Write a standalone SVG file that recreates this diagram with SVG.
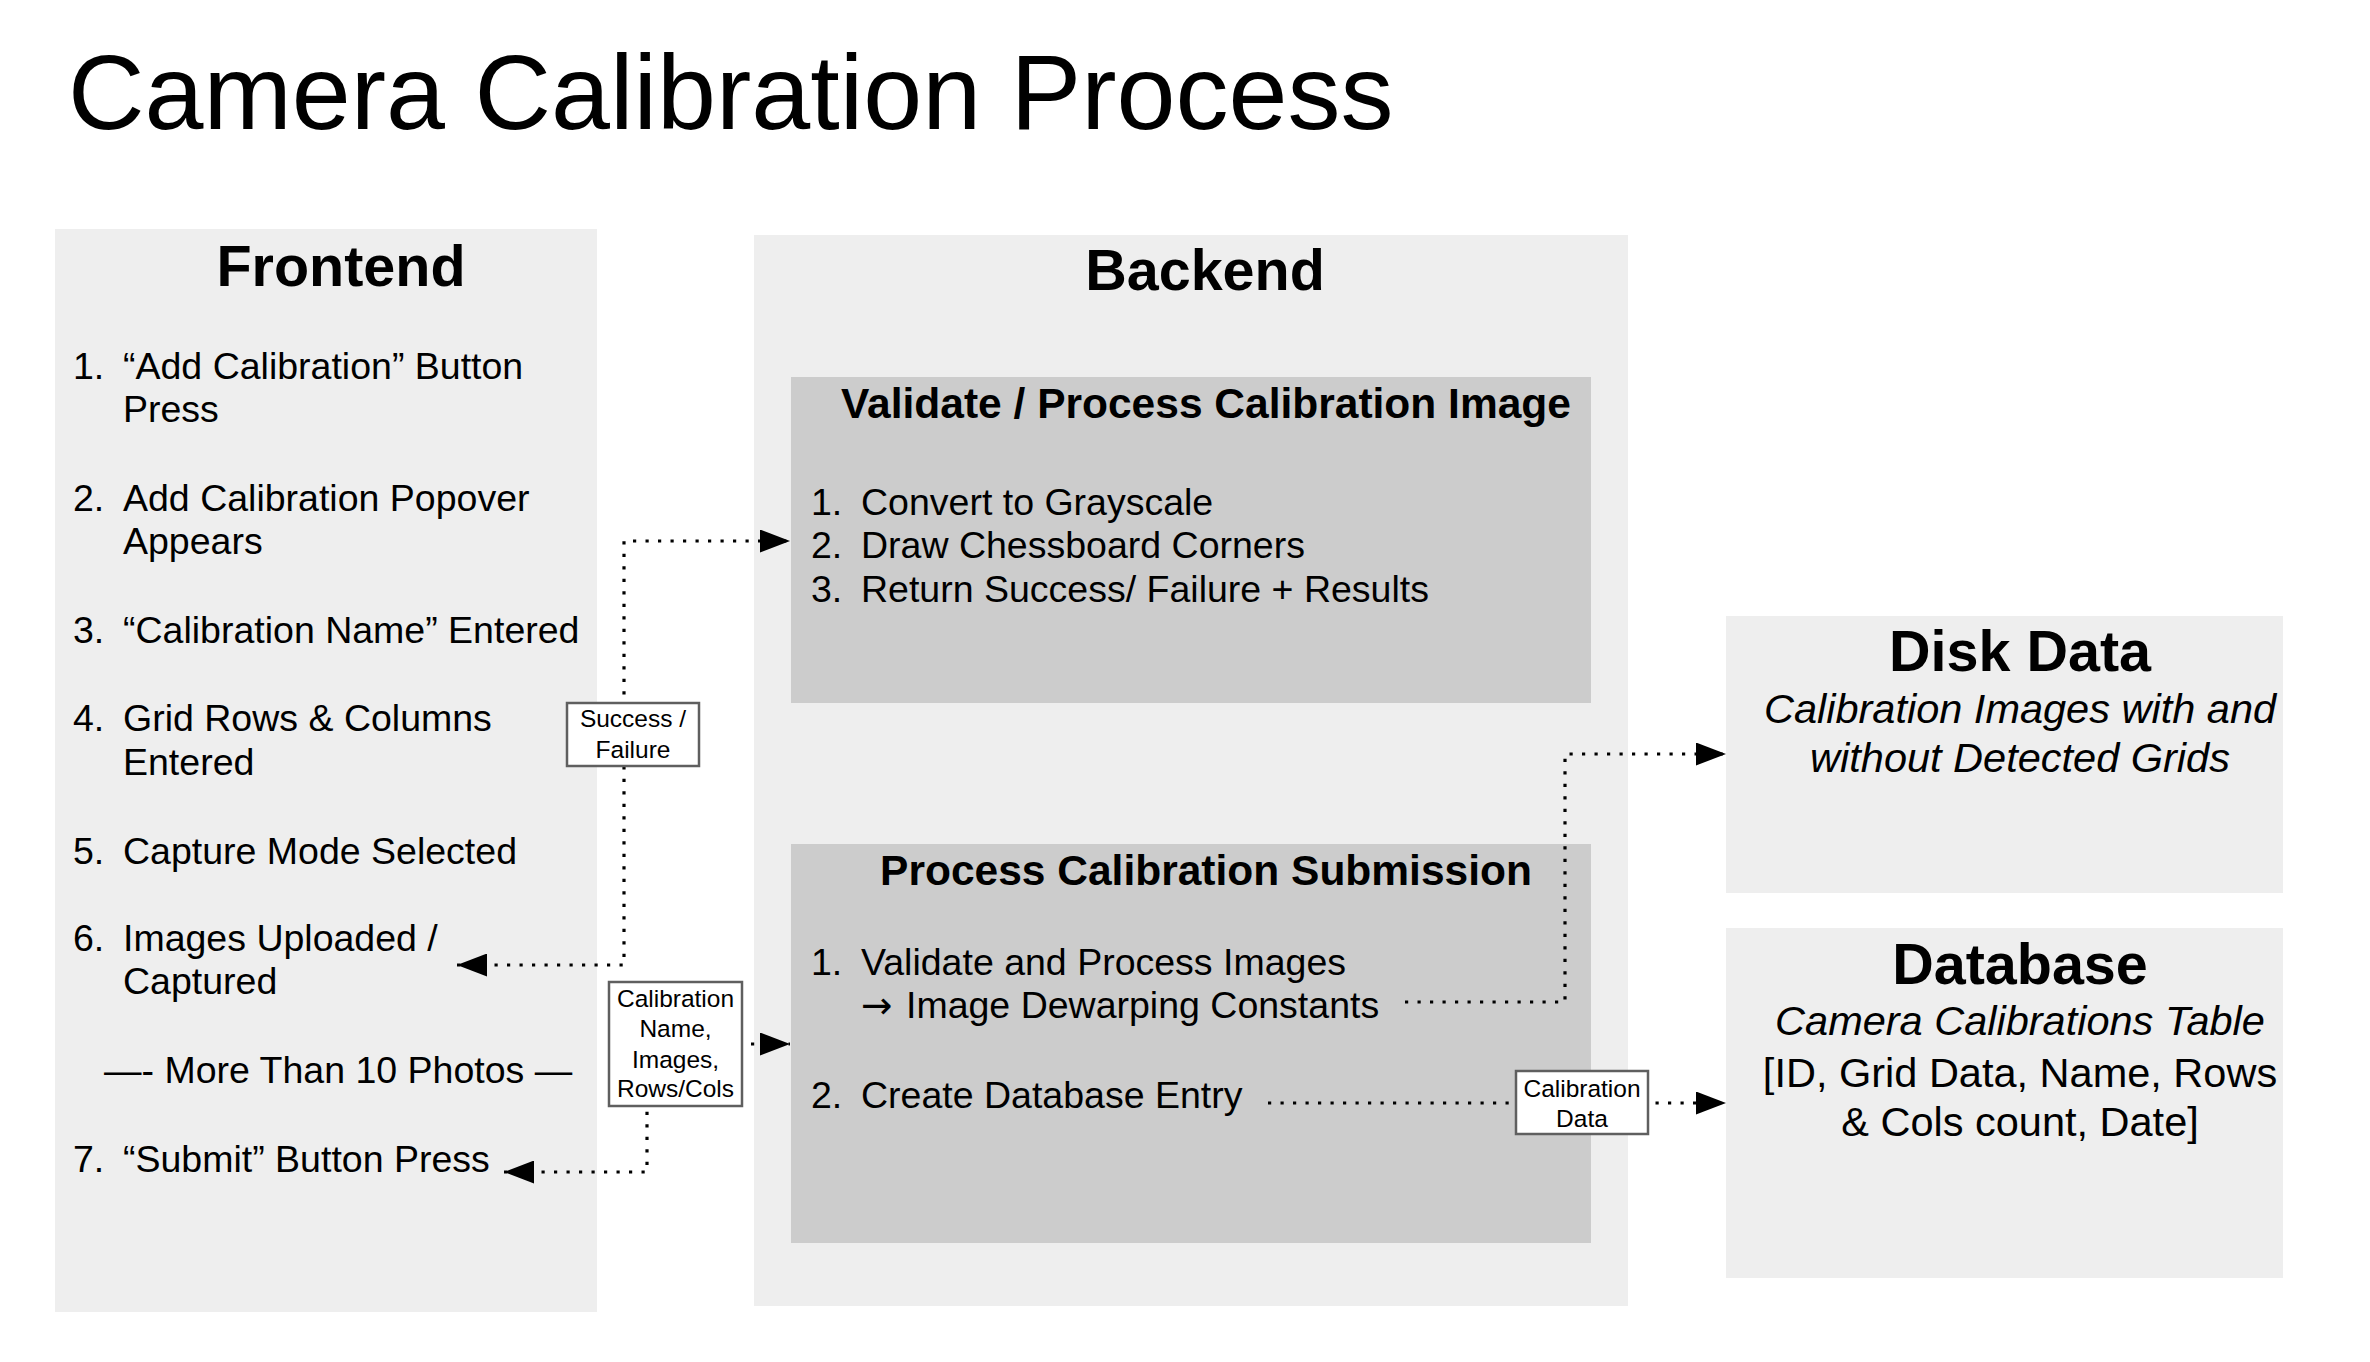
<svg xmlns="http://www.w3.org/2000/svg" width="2370" height="1362" viewBox="0 0 2370 1362">
<defs>
<style>
text{font-family:"Liberation Sans",Arial,sans-serif;fill:#000}
.panel{fill:#eeeeee}
.inner{fill:#cccccc}
.h{font-size:57.5px;font-weight:bold;text-anchor:middle}
.sub{font-size:42.5px;font-weight:bold;text-anchor:middle}
.li{font-size:37.5px}
.it{font-size:41.5px;font-style:italic;text-anchor:middle}
.rt{font-size:41.5px;text-anchor:middle}
.lbl{fill:#ffffff;stroke:#5f5f5f;stroke-width:2.5}
.lt{font-size:24.5px;text-anchor:middle}
.dot{fill:none;stroke:#000;stroke-width:3.2;stroke-dasharray:3.2 9.3}
.arr{font-family:"DejaVu Sans",sans-serif}
</style>
<marker id="ah" markerUnits="userSpaceOnUse" markerWidth="31" markerHeight="23" refX="30" refY="11.5" orient="auto-start-reverse">
<path d="M0,0 L30,11.5 L0,23 Z" fill="#000"/>
</marker>
</defs>
<rect width="2370" height="1362" fill="#ffffff"/>
<text x="68" y="129" style="font-size:106px">Camera Calibration Process</text>

<g id="frontend">
<rect class="panel" x="55" y="229" width="542" height="1083"/>
<text class="h" x="341" y="286">Frontend</text>
<g class="li">
<text x="73" y="379">1.</text><text x="123" y="379">“Add Calibration” Button</text>
<text x="123" y="422">Press</text>
<text x="73" y="511">2.</text><text x="123" y="511">Add Calibration Popover</text>
<text x="123" y="554">Appears</text>
<text x="73" y="643">3.</text><text x="123" y="643">“Calibration Name” Entered</text>
<text x="73" y="731">4.</text><text x="123" y="731">Grid Rows &amp; Columns</text>
<text x="123" y="775">Entered</text>
<text x="73" y="864">5.</text><text x="123" y="864">Capture Mode Selected</text>
<text x="73" y="951">6.</text><text x="123" y="951">Images Uploaded /</text>
<text x="123" y="994">Captured</text>
<text x="104" y="1083">—- More Than 10 Photos —</text>
<text x="73" y="1172">7.</text><text x="123" y="1172">“Submit” Button Press</text>
</g>
</g>

<g id="backend">
<rect class="panel" x="754" y="235" width="874" height="1071"/>
<text class="h" x="1205" y="290">Backend</text>
</g>

<g id="validate">
<rect class="inner" x="791" y="377" width="800" height="326"/>
<text class="sub" x="1206" y="418">Validate / Process Calibration Image</text>
<g class="li">
<text x="811" y="515">1.</text><text x="861" y="515">Convert to Grayscale</text>
<text x="811" y="558">2.</text><text x="861" y="558">Draw Chessboard Corners</text>
<text x="811" y="602">3.</text><text x="861" y="602">Return Success/ Failure + Results</text>
</g>
</g>

<g id="submission">
<rect class="inner" x="791" y="844" width="800" height="399"/>
<text class="sub" x="1206" y="885">Process Calibration Submission</text>
<g class="li">
<text x="811" y="975">1.</text><text x="861" y="975">Validate and Process Images</text>
<text x="861" y="1018"><tspan class="arr">→</tspan><tspan x="906">Image Dewarping Constants</tspan></text>
<text x="811" y="1108">2.</text><text x="861" y="1108">Create Database Entry</text>
</g>
</g>

<g id="disk">
<rect class="panel" x="1726" y="616" width="557" height="277"/>
<text class="h" x="2020" y="671">Disk Data</text>
<text class="it" x="2020" y="723">Calibration Images with and</text>
<text class="it" x="2020" y="772">without Detected Grids</text>
</g>

<g id="database">
<rect class="panel" x="1726" y="928" width="557" height="350"/>
<text class="h" x="2020" y="984">Database</text>
<text class="it" x="2020" y="1035">Camera Calibrations Table</text>
<text class="rt" x="2020" y="1087">[ID, Grid Data, Name, Rows</text>
<text class="rt" x="2020" y="1136">&amp; Cols count, Date]</text>
</g>

<g id="connectors">
<path class="dot" d="M457,965 H624 V541 H790" marker-start="url(#ah)" marker-end="url(#ah)"/>
<path class="dot" d="M504,1172 H647 V1044 H790" marker-start="url(#ah)" marker-end="url(#ah)"/>
<path class="dot" d="M1405,1002 H1565 V754 H1726" marker-end="url(#ah)"/>
<path class="dot" d="M1268,1103 H1726" marker-end="url(#ah)"/>
<rect class="lbl" x="567" y="703" width="132" height="63"/>
<text class="lt" x="633" y="727">Success /</text>
<text class="lt" x="633" y="758">Failure</text>
<rect class="lbl" x="609" y="982" width="133" height="124"/>
<text class="lt" x="675.5" y="1007">Calibration</text>
<text class="lt" x="675.5" y="1037">Name,</text>
<text class="lt" x="675.5" y="1068">Images,</text>
<text class="lt" x="675.5" y="1097">Rows/Cols</text>
<rect class="lbl" x="1516" y="1071" width="132" height="63"/>
<text class="lt" x="1582" y="1097">Calibration</text>
<text class="lt" x="1582" y="1127">Data</text>
</g>
</svg>
